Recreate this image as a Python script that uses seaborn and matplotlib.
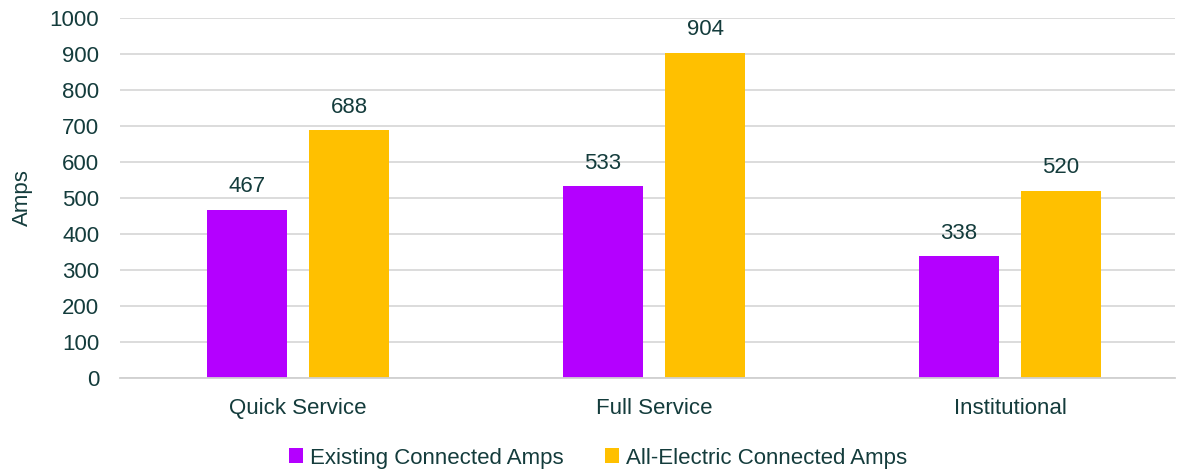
import matplotlib
matplotlib.use("Agg")
import matplotlib.pyplot as plt
import seaborn as sns
import pandas as pd
from matplotlib.patches import Patch

# chart values
categories = ["Quick Service", "Full Service", "Institutional"]
series_names = ["Existing Connected Amps", "All-Electric Connected Amps"]
existing_amps = [467, 533, 338]
all_electric_amps = [688, 904, 520]

text_color = "#143C3C"
colors = ["#B400FF", "#FFC000"]

df = pd.DataFrame({
    "category": categories * 2,
    "series": [series_names[0]] * 3 + [series_names[1]] * 3,
    "amps": existing_amps + all_electric_amps,
})

sns.set_style("white")
plt.rcParams["font.family"] = ["Liberation Sans Narrow", "Liberation Sans", "DejaVu Sans"]

fig = plt.figure(figsize=(11.82, 4.72), dpi=100)
ax = fig.add_axes([0.1015, 0.199, 0.8925, 0.763])

sns.barplot(data=df, x="category", y="amps", hue="series", palette=colors,
            width=0.573, gap=0.216, saturation=1, linewidth=0, legend=False, ax=ax)

for cont in ax.containers:
    ax.bar_label(cont, fmt="%d", padding=9, fontsize=16, color=text_color)

ax.set_xlim(-0.5, 2.463)
ax.set_ylim(0, 1000)
ax.set_yticks(range(0, 1001, 100))
ax.yaxis.grid(True, color="#D9D9D9", linewidth=1.3)
ax.set_axisbelow(True)
for s in ["top", "right", "left"]:
    ax.spines[s].set_visible(False)
ax.spines["bottom"].set_color("#D0D0D0")
ax.spines["bottom"].set_linewidth(1.3)
ax.tick_params(axis="both", length=0, labelsize=16, labelcolor=text_color)
ax.tick_params(axis="y", pad=15)
ax.tick_params(axis="x", pad=14)
ax.set_xlabel("")
ax.set_ylabel("Amps", fontsize=16, color=text_color, labelpad=12)

handles = [Patch(facecolor=c, edgecolor="none") for c in colors]
fig.legend(handles, series_names, loc="lower center", bbox_to_anchor=(0.506, -0.035),
           ncol=2, frameon=False, fontsize=16, labelcolor=text_color,
           handlelength=0.65, handleheight=0.65, handletextpad=0.3, columnspacing=1.85)

fig.savefig("out.png", dpi=100)
